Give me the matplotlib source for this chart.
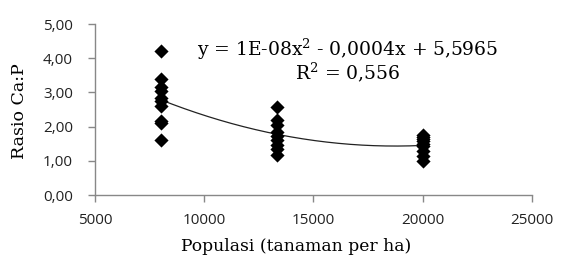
import numpy as np
import matplotlib
matplotlib.use("Agg")
import matplotlib.pyplot as plt

plt.rcParams["mathtext.fontset"] = "dejavuserif"

# data
x_8000 = [8000] * 10
y_8000 = [4.2, 3.4, 3.15, 3.05, 2.85, 2.75, 2.6, 2.15, 2.1, 1.62]
x_13333 = [13333] * 9
y_13333 = [2.58, 2.2, 2.05, 1.85, 1.72, 1.6, 1.45, 1.35, 1.18]
x_20000 = [20000] * 9
y_20000 = [1.75, 1.7, 1.65, 1.58, 1.5, 1.42, 1.3, 1.15, 1.0]

x_ticks = [5000, 10000, 15000, 20000, 25000]
y_ticks = [0, 1, 2, 3, 4, 5]
y_ticklabels = ["0,00", "1,00", "2,00", "3,00", "4,00", "5,00"]

x_all = np.array(x_8000 + x_13333 + x_20000, dtype=float)
y_all = np.array(y_8000 + y_13333 + y_20000, dtype=float)

fig = plt.figure(figsize=(5.61, 2.57), dpi=100)
ax = fig.add_axes([0.1693, 0.2412, 0.779, 0.6654])

ax.scatter(x_all, y_all, marker="D", s=52, color="black", zorder=3, linewidths=0)

coef = np.polyfit(x_all, y_all, 2)
xs = np.linspace(8000, 20000, 200)
ax.plot(xs, np.polyval(coef, xs), color="#222222", lw=0.9, zorder=2)

ax.set_xlim(5000, 25000)
ax.set_ylim(0, 5)
tick_font = dict(fontfamily="Open Sans", fontsize=11, color="#222222")
ax.set_xticks(x_ticks)
ax.set_xticklabels([str(v) for v in x_ticks], **tick_font)
ax.set_yticks(y_ticks)
ax.set_yticklabels(y_ticklabels, **tick_font)

for s in ["top", "right"]:
    ax.spines[s].set_visible(False)
for s in ["left", "bottom"]:
    ax.spines[s].set_color("#888888")
    ax.spines[s].set_linewidth(1.0)
ax.tick_params(axis="both", color="#888888", length=5, width=1.0)
ax.tick_params(axis="x", pad=8)
ax.tick_params(axis="y", pad=11)

ax.set_xlabel("Populasi (tanaman per ha)", fontfamily="DejaVu Serif", fontsize=12.3)
ax.set_ylabel("Rasio Ca:P", fontfamily="DejaVu Serif", fontsize=12.5)
ax.xaxis.set_label_coords(0.46, -0.25)
ax.yaxis.set_label_coords(-0.153, 0.488)

ax.text(0.578, 0.854, "y = 1E-08x$^{2}$ - 0,0004x + 5,5965", transform=ax.transAxes,
        ha="center", va="center", fontsize=13.5, fontfamily="DejaVu Serif")
ax.text(0.578, 0.719, "R$^{2}$ = 0,556", transform=ax.transAxes,
        ha="center", va="center", fontsize=13.5, fontfamily="DejaVu Serif")

fig.savefig("out.png", dpi=100, facecolor="white")
